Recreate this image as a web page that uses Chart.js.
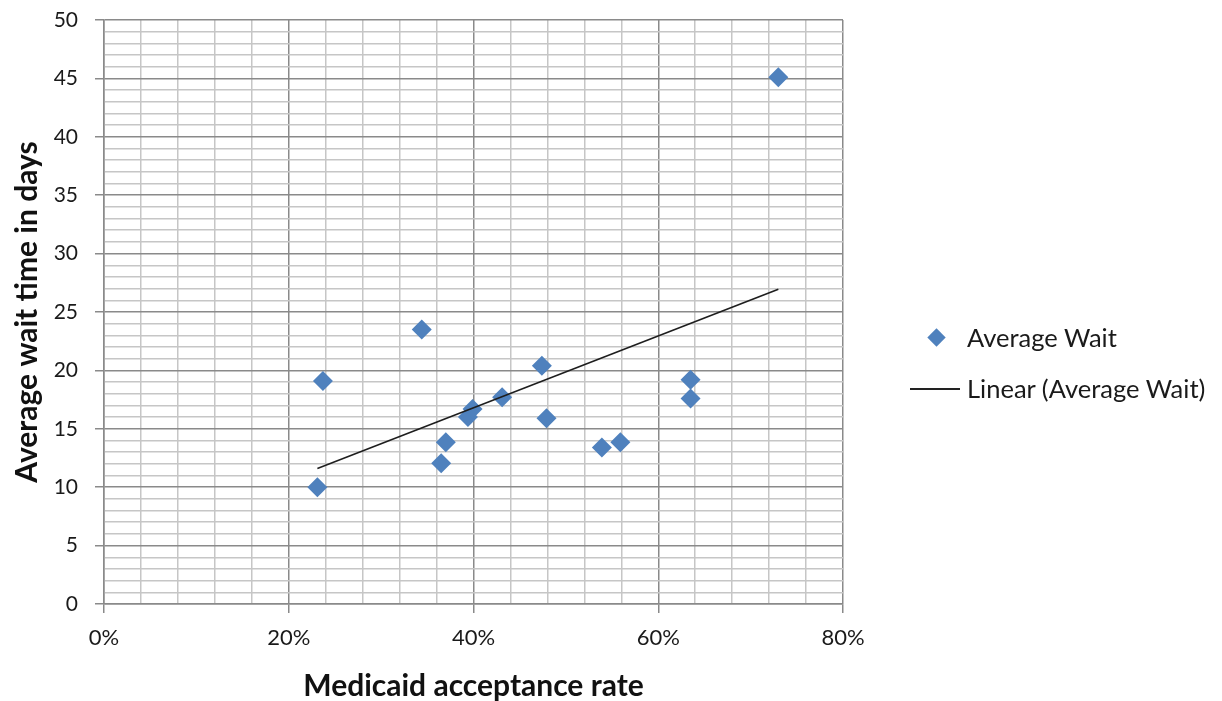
<!DOCTYPE html>
<html>
<head>
<meta charset="utf-8">
<script src="https://cdn.jsdelivr.net/npm/chart.js@4.4.1/dist/chart.umd.min.js"></script>
<style>
  html, body { margin: 0; padding: 0; background: #fff; }
  #wrap { position: relative; width: 1222px; height: 701px; }
  #chart { position: absolute; left: 0; top: 0; }
  .legend { position: absolute; font-family: Lato, sans-serif; font-size: 25.5px; color: #1a1a1a; }
  .legend .row { position: absolute; white-space: nowrap; height: 28px; line-height: 28px; }
  .diamond { position: absolute; width: 13px; height: 13px; background: #4f81bd; transform: rotate(45deg); }
  .dash { position: absolute; height: 2px; background: #222; }
</style>
</head>
<body>
<div id="wrap">
  <canvas id="chart" width="1222" height="701"></canvas>
  <div class="legend">
    <div class="diamond" style="left:930px; top:331px;"></div>
    <div class="row" style="left:967px; top:323px;">Average Wait</div>
    <div class="dash" style="left:910px; top:388px; width:50px;"></div>
    <div class="row" style="left:967px; top:374px;">Linear (Average Wait)</div>
  </div>
</div>
<script>
// acceptance rate (%) and average wait (days)
const acceptRate = [23.1, 23.7, 34.4, 36.5, 37.0, 39.4, 39.9, 43.1, 47.4, 47.9, 53.9, 55.9, 63.5, 63.5, 73.0];
const avgWait    = [10.0, 19.1, 23.5, 12.05, 13.85, 16.0, 16.7, 17.7, 20.4, 15.9, 13.4, 13.85, 19.2, 17.6, 45.1];

// trend line ends as drawn
const trendX = [23.1, 73.0];
const trendY = [11.6, 26.95];

const xMajor = 20, xMinor = 4;
const yMajor = 5, yMinor = 1;

const fontFamily = 'Lato, sans-serif';

const points = acceptRate.map((x, i) => ({ x: x, y: avgWait[i] }));
const trend = trendX.map((x, i) => ({ x: x, y: trendY[i] }));

function isMajor(v, step) {
    return Math.abs(v / step - Math.round(v / step)) < 1e-6;
}

new Chart(document.getElementById('chart'), {
    type: 'scatter',
    data: {
        datasets: [
            {
                label: 'Average Wait',
                data: points,
                pointStyle: 'rectRot',
                pointRadius: 10,
                pointHoverRadius: 10,
                backgroundColor: '#4f81bd',
                borderColor: '#4f81bd',
                borderWidth: 0,
                order: 2
            },
            {
                type: 'line',
                label: 'Linear (Average Wait)',
                data: trend,
                borderColor: '#1e1e1e',
                borderWidth: 1.6,
                pointRadius: 0,
                fill: false,
                order: 1
            }
        ]
    },
    options: {
        responsive: false,
        animation: false,
        layout: { padding: { left: 0, right: 379, top: 20, bottom: 0 } },
        plugins: {
            legend: { display: false },
            tooltip: { enabled: false }
        },
        scales: {
            x: {
                type: 'linear',
                min: 0,
                max: 80,
                afterFit: scale => { scale.height = 97; },
                ticks: {
                    stepSize: xMinor,
                    autoSkip: false,
                    maxRotation: 0,
                    padding: 12,
                    color: '#1a1a1a',
                    font: { family: fontFamily, size: 22 },
                    callback: v => isMajor(v, xMajor) ? v + '%' : ''
                },
                grid: {
                    color: c => isMajor(c.tick.value, xMajor) ? '#8a8a8a' : '#c6c6c6',
                    lineWidth: 1.5,
                    tickLength: 9,
                    tickColor: c => isMajor(c.tick.value, xMajor) ? '#8a8a8a' : 'rgba(0,0,0,0)'
                },
                border: { color: '#8a8a8a', width: 1.5 },
                title: {
                    display: true,
                    text: 'Medicaid acceptance rate',
                    color: '#111',
                    font: { family: fontFamily, size: 30, weight: 'bold', lineHeight: 1 },
                    padding: { top: 0, bottom: 0 }
                }
            },
            y: {
                type: 'linear',
                min: 0,
                max: 50,
                afterFit: scale => {
                    scale.width = 104;
                    scale.paddingTop = 0;
                    scale.paddingBottom = 0;
                },
                ticks: {
                    stepSize: yMinor,
                    autoSkip: false,
                    padding: 17,
                    color: '#1a1a1a',
                    font: { family: fontFamily, size: 21 },
                    callback: v => isMajor(v, yMajor) ? v : ''
                },
                grid: {
                    color: c => isMajor(c.tick.value, yMajor) ? '#8a8a8a' : '#c6c6c6',
                    lineWidth: 1.5,
                    tickLength: 9,
                    tickColor: c => isMajor(c.tick.value, yMajor) ? '#8a8a8a' : 'rgba(0,0,0,0)'
                },
                border: { color: '#8a8a8a', width: 1.5 },
                title: {
                    display: true,
                    text: 'Average wait time in days',
                    color: '#111',
                    font: { family: fontFamily, size: 30, weight: 'bold', lineHeight: 1 },
                    padding: { top: 12, bottom: 0 }
                }
            }
        }
    }
});
</script>
</body>
</html>
